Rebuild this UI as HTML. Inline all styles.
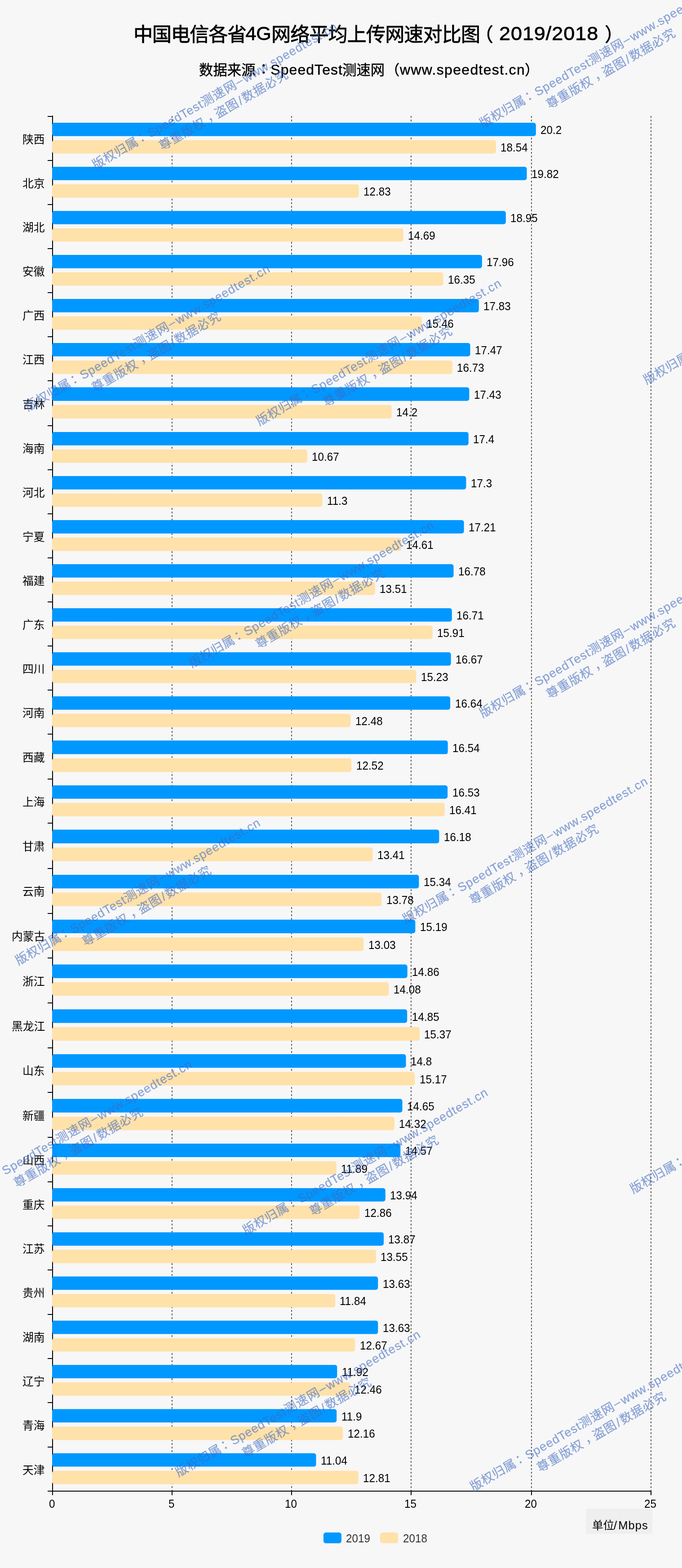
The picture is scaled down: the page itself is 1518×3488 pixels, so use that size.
<!DOCTYPE html>
<html lang="zh-CN"><head><meta charset="utf-8">
<title>中国电信各省4G网络平均上传网速对比图（2019/2018）</title>
<style>
html,body{margin:0;padding:0;background:#f7f7f7}
body{width:1518px;height:3488px;position:relative;overflow:hidden;font-family:"Liberation Sans","Noto Sans CJK SC",sans-serif}
h1,p{margin:0;padding:0;font-weight:normal}
.page{position:absolute;left:0;top:0;width:1518px;height:3488px;will-change:transform}
.t{position:absolute;line-height:1;white-space:nowrap;font-weight:normal;transform-origin:0 50%}
.cjk{position:absolute;overflow:visible;font-family:"Liberation Sans","Noto Sans CJK SC",sans-serif}
.lines,.wm{position:absolute;left:0;top:0;pointer-events:none}
.gl{stroke:#5a5a5a;stroke-width:2;stroke-dasharray:4 4}
.ax{stroke:#000;stroke-width:2}
.bar{position:absolute;border-radius:5px}
.b19{background:#0098ff;fill:#0098ff}
.b18{background:#ffe1aa;fill:#ffe1aa}
.sw{position:absolute;width:40px;height:24.4px;border-radius:5.5px}
.unitbg{position:absolute;background:#efefef}
.wm{fill:rgb(63,106,192);stroke:rgb(63,106,192);stroke-width:.35px;opacity:.6;font-family:"Liberation Sans","Noto Sans CJK SC",sans-serif;font-size:27px}
</style></head>
<body>
<main class="page">
<svg class="lines" width="1518" height="3488" viewBox="0 0 1518 3488" role="img" aria-label="bar chart"><g><line x1="383" y1="258" x2="383" y2="3316" class="gl"/><line x1="649" y1="258" x2="649" y2="3316" class="gl"/><line x1="915" y1="258" x2="915" y2="3316" class="gl"/><line x1="1183" y1="258" x2="1183" y2="3316" class="gl"/><line x1="1449" y1="258" x2="1449" y2="3316" class="gl"/><line x1="117" y1="257.3" x2="117" y2="3318" class="ax"/><line x1="106" y1="3317" x2="1450" y2="3317" class="ax"/><line x1="106" y1="259" x2="117" y2="259" class="ax"/><line x1="106" y1="357" x2="117" y2="357" class="ax"/><line x1="106" y1="455" x2="117" y2="455" class="ax"/><line x1="106" y1="553" x2="117" y2="553" class="ax"/><line x1="106" y1="651" x2="117" y2="651" class="ax"/><line x1="106" y1="749" x2="117" y2="749" class="ax"/><line x1="106" y1="847" x2="117" y2="847" class="ax"/><line x1="106" y1="947" x2="117" y2="947" class="ax"/><line x1="106" y1="1045" x2="117" y2="1045" class="ax"/><line x1="106" y1="1143" x2="117" y2="1143" class="ax"/><line x1="106" y1="1241" x2="117" y2="1241" class="ax"/><line x1="106" y1="1339" x2="117" y2="1339" class="ax"/><line x1="106" y1="1437" x2="117" y2="1437" class="ax"/><line x1="106" y1="1535" x2="117" y2="1535" class="ax"/><line x1="106" y1="1633" x2="117" y2="1633" class="ax"/><line x1="106" y1="1733" x2="117" y2="1733" class="ax"/><line x1="106" y1="1831" x2="117" y2="1831" class="ax"/><line x1="106" y1="1932" x2="117" y2="1932" class="ax"/><line x1="106" y1="2032" x2="117" y2="2032" class="ax"/><line x1="106" y1="2131" x2="117" y2="2131" class="ax"/><line x1="106" y1="2231" x2="117" y2="2231" class="ax"/><line x1="106" y1="2331" x2="117" y2="2331" class="ax"/><line x1="106" y1="2430" x2="117" y2="2430" class="ax"/><line x1="106" y1="2530" x2="117" y2="2530" class="ax"/><line x1="106" y1="2629" x2="117" y2="2629" class="ax"/><line x1="106" y1="2727" x2="117" y2="2727" class="ax"/><line x1="106" y1="2825" x2="117" y2="2825" class="ax"/><line x1="106" y1="2924" x2="117" y2="2924" class="ax"/><line x1="106" y1="3022" x2="117" y2="3022" class="ax"/><line x1="106" y1="3120" x2="117" y2="3120" class="ax"/><line x1="106" y1="3219" x2="117" y2="3219" class="ax"/><line x1="117" y1="3317" x2="117" y2="3326" class="ax"/><line x1="383" y1="3317" x2="383" y2="3326" class="ax"/><line x1="649" y1="3317" x2="649" y2="3326" class="ax"/><line x1="915" y1="3317" x2="915" y2="3326" class="ax"/><line x1="1183" y1="3317" x2="1183" y2="3326" class="ax"/><line x1="1449" y1="3317" x2="1449" y2="3326" class="ax"/></g><g><rect class="b19" x="116" y="273.09" width="1076.84" height="29.68" rx="5"/><rect class="b18" x="116" y="311.87" width="987.94" height="29.68" rx="5"/><rect class="b19" x="116" y="371.11" width="1056.55" height="29.72" rx="5"/><rect class="b18" x="116" y="409.93" width="682.76" height="29.72" rx="5"/><rect class="b19" x="116" y="469.18" width="1009.92" height="29.65" rx="5"/><rect class="b18" x="116" y="507.92" width="781.71" height="29.65" rx="5"/><rect class="b19" x="116" y="567.06" width="956.86" height="29.62" rx="5"/><rect class="b18" x="116" y="605.77" width="870.56" height="29.62" rx="5"/><rect class="b19" x="116" y="664.92" width="949.89" height="29.75" rx="5"/><rect class="b18" x="116" y="703.78" width="822.86" height="29.75" rx="5"/><rect class="b19" x="116" y="763.11" width="930.59" height="29.72" rx="5"/><rect class="b18" x="116" y="801.93" width="890.93" height="29.72" rx="5"/><rect class="b19" x="116" y="861.44" width="928.45" height="30.2" rx="5"/><rect class="b18" x="116" y="900.89" width="755.64" height="30.2" rx="5"/><rect class="b19" x="116" y="960.91" width="926.84" height="29.72" rx="5"/><rect class="b18" x="116" y="999.73" width="567.84" height="29.72" rx="5"/><rect class="b19" x="116" y="1059.01" width="921.48" height="29.72" rx="5"/><rect class="b18" x="116" y="1097.83" width="601.36" height="29.72" rx="5"/><rect class="b19" x="116" y="1157.09" width="916.66" height="29.68" rx="5"/><rect class="b18" x="116" y="1195.87" width="777.45" height="29.68" rx="5"/><rect class="b19" x="116" y="1255.09" width="893.61" height="29.68" rx="5"/><rect class="b18" x="116" y="1293.87" width="718.93" height="29.68" rx="5"/><rect class="b19" x="116" y="1353.09" width="889.86" height="29.68" rx="5"/><rect class="b18" x="116" y="1391.87" width="846.98" height="29.68" rx="5"/><rect class="b19" x="116" y="1451.09" width="887.71" height="29.68" rx="5"/><rect class="b18" x="116" y="1489.87" width="810.53" height="29.68" rx="5"/><rect class="b19" x="116" y="1549.08" width="886.1" height="29.65" rx="5"/><rect class="b18" x="116" y="1587.82" width="664.14" height="29.65" rx="5"/><rect class="b19" x="116" y="1647.29" width="880.74" height="30.32" rx="5"/><rect class="b18" x="116" y="1686.91" width="666.26" height="30.32" rx="5"/><rect class="b19" x="116" y="1747.11" width="880.21" height="29.72" rx="5"/><rect class="b18" x="116" y="1785.93" width="873.78" height="29.72" rx="5"/><rect class="b19" x="116" y="1845.55" width="861.45" height="30.44" rx="5"/><rect class="b18" x="116" y="1885.32" width="713.61" height="30.44" rx="5"/><rect class="b19" x="116" y="1945.97" width="816.42" height="30.26" rx="5"/><rect class="b18" x="116" y="1985.5" width="733.3" height="30.26" rx="5"/><rect class="b19" x="116" y="2045.84" width="808.38" height="30.2" rx="5"/><rect class="b18" x="116" y="2085.29" width="693.4" height="30.2" rx="5"/><rect class="b19" x="116" y="2145.54" width="790.75" height="30.2" rx="5"/><rect class="b18" x="116" y="2184.99" width="749.26" height="30.2" rx="5"/><rect class="b19" x="116" y="2245.27" width="790.22" height="30.26" rx="5"/><rect class="b18" x="116" y="2284.8" width="818.03" height="30.26" rx="5"/><rect class="b19" x="116" y="2345.11" width="787.56" height="30.14" rx="5"/><rect class="b18" x="116" y="2384.48" width="807.31" height="30.14" rx="5"/><rect class="b19" x="116" y="2444.61" width="779.58" height="30.14" rx="5"/><rect class="b18" x="116" y="2483.98" width="762.02" height="30.14" rx="5"/><rect class="b19" x="116" y="2544.07" width="775.32" height="30.05" rx="5"/><rect class="b18" x="116" y="2583.32" width="632.75" height="30.05" rx="5"/><rect class="b19" x="116" y="2643.09" width="741.81" height="29.68" rx="5"/><rect class="b18" x="116" y="2681.87" width="684.35" height="29.68" rx="5"/><rect class="b19" x="116" y="2741.14" width="738.08" height="29.78" rx="5"/><rect class="b18" x="116" y="2780.03" width="721.06" height="29.78" rx="5"/><rect class="b19" x="116" y="2839.45" width="725.32" height="29.81" rx="5"/><rect class="b18" x="116" y="2878.39" width="630.09" height="29.81" rx="5"/><rect class="b19" x="116" y="2937.84" width="725.32" height="29.78" rx="5"/><rect class="b18" x="116" y="2976.73" width="674.24" height="29.78" rx="5"/><rect class="b19" x="116" y="3036.14" width="634.34" height="29.78" rx="5"/><rect class="b18" x="116" y="3075.03" width="663.07" height="29.78" rx="5"/><rect class="b19" x="116" y="3134.45" width="633.28" height="29.81" rx="5"/><rect class="b18" x="116" y="3173.39" width="647.11" height="29.81" rx="5"/><rect class="b19" x="116" y="3232.84" width="587.53" height="29.78" rx="5"/><rect class="b18" x="116" y="3271.73" width="681.69" height="29.78" rx="5"/></g></svg>
<div class="plot"><div class="row"><svg class="cjk" role="img" aria-label="陕西" style="left:50.4px;top:294.67px" width="51.6" height="29.76" fill="#000"><title>陕西</title><text x="0" y="23.56" font-size="24.8">陕西</text></svg><span class="t" style="left:1203.24px;top:276.1px;font-size:26.5px;color:#000;transform:scaleX(0.915);">20.2</span><span class="t" style="left:1114.34px;top:314.88px;font-size:26.5px;color:#000;transform:scaleX(0.915);">18.54</span></div>
<div class="row"><svg class="cjk" role="img" aria-label="北京" style="left:50.4px;top:392.71px" width="51.6" height="29.76" fill="#000"><title>北京</title><text x="0" y="23.56" font-size="24.8">北京</text></svg><span class="t" style="left:1182.95px;top:374.13px;font-size:26.5px;color:#000;transform:scaleX(0.915);">19.82</span><span class="t" style="left:809.16px;top:412.95px;font-size:26.5px;color:#000;transform:scaleX(0.915);">12.83</span></div>
<div class="row"><svg class="cjk" role="img" aria-label="湖北" style="left:50.4px;top:490.72px" width="51.6" height="29.76" fill="#000"><title>湖北</title><text x="0" y="23.56" font-size="24.8">湖北</text></svg><span class="t" style="left:1136.32px;top:472.17px;font-size:26.5px;color:#000;transform:scaleX(0.915);">18.95</span><span class="t" style="left:908.11px;top:510.91px;font-size:26.5px;color:#000;transform:scaleX(0.915);">14.69</span></div>
<div class="row"><svg class="cjk" role="img" aria-label="安徽" style="left:50.4px;top:588.57px" width="51.6" height="29.76" fill="#000"><title>安徽</title><text x="0" y="23.56" font-size="24.8">安徽</text></svg><span class="t" style="left:1083.26px;top:570.04px;font-size:26.5px;color:#000;transform:scaleX(0.915);">17.96</span><span class="t" style="left:996.96px;top:608.75px;font-size:26.5px;color:#000;transform:scaleX(0.915);">16.35</span></div>
<div class="row"><svg class="cjk" role="img" aria-label="广西" style="left:50.4px;top:686.56px" width="51.6" height="29.76" fill="#000"><title>广西</title><text x="0" y="23.56" font-size="24.8">广西</text></svg><span class="t" style="left:1076.29px;top:667.96px;font-size:26.5px;color:#000;transform:scaleX(0.915);">17.83</span><span class="t" style="left:949.26px;top:706.82px;font-size:26.5px;color:#000;transform:scaleX(0.915);">15.46</span></div>
<div class="row"><svg class="cjk" role="img" aria-label="江西" style="left:50.4px;top:784.71px" width="51.6" height="29.76" fill="#000"><title>江西</title><text x="0" y="23.56" font-size="24.8">江西</text></svg><span class="t" style="left:1056.99px;top:766.13px;font-size:26.5px;color:#000;transform:scaleX(0.915);">17.47</span><span class="t" style="left:1017.33px;top:804.95px;font-size:26.5px;color:#000;transform:scaleX(0.915);">16.73</span></div>
<div class="row"><svg class="cjk" role="img" aria-label="吉林" style="left:50.4px;top:883.6px" width="51.6" height="29.76" fill="#000"><title>吉林</title><text x="0" y="23.56" font-size="24.8">吉林</text></svg><span class="t" style="left:1054.85px;top:864.7px;font-size:26.5px;color:#000;transform:scaleX(0.915);">17.43</span><span class="t" style="left:882.04px;top:904.16px;font-size:26.5px;color:#000;transform:scaleX(0.915);">14.2</span></div>
<div class="row"><svg class="cjk" role="img" aria-label="海南" style="left:50.4px;top:982.51px" width="51.6" height="29.76" fill="#000"><title>海南</title><text x="0" y="23.56" font-size="24.8">海南</text></svg><span class="t" style="left:1053.24px;top:963.93px;font-size:26.5px;color:#000;transform:scaleX(0.915);">17.4</span><span class="t" style="left:694.24px;top:1002.75px;font-size:26.5px;color:#000;transform:scaleX(0.915);">10.67</span></div>
<div class="row"><svg class="cjk" role="img" aria-label="河北" style="left:50.4px;top:1080.61px" width="51.6" height="29.76" fill="#000"><title>河北</title><text x="0" y="23.56" font-size="24.8">河北</text></svg><span class="t" style="left:1047.88px;top:1062.03px;font-size:26.5px;color:#000;transform:scaleX(0.915);">17.3</span><span class="t" style="left:727.76px;top:1100.85px;font-size:26.5px;color:#000;transform:scaleX(0.915);">11.3</span></div>
<div class="row"><svg class="cjk" role="img" aria-label="宁夏" style="left:50.4px;top:1178.67px" width="51.6" height="29.76" fill="#000"><title>宁夏</title><text x="0" y="23.56" font-size="24.8">宁夏</text></svg><span class="t" style="left:1043.06px;top:1160.1px;font-size:26.5px;color:#000;transform:scaleX(0.915);">17.21</span><span class="t" style="left:903.85px;top:1198.88px;font-size:26.5px;color:#000;transform:scaleX(0.915);">14.61</span></div>
<div class="row"><svg class="cjk" role="img" aria-label="福建" style="left:50.4px;top:1276.67px" width="51.6" height="29.76" fill="#000"><title>福建</title><text x="0" y="23.56" font-size="24.8">福建</text></svg><span class="t" style="left:1020.01px;top:1258.1px;font-size:26.5px;color:#000;transform:scaleX(0.915);">16.78</span><span class="t" style="left:845.33px;top:1296.88px;font-size:26.5px;color:#000;transform:scaleX(0.915);">13.51</span></div>
<div class="row"><svg class="cjk" role="img" aria-label="广东" style="left:50.4px;top:1374.67px" width="51.6" height="29.76" fill="#000"><title>广东</title><text x="0" y="23.56" font-size="24.8">广东</text></svg><span class="t" style="left:1016.26px;top:1356.1px;font-size:26.5px;color:#000;transform:scaleX(0.915);">16.71</span><span class="t" style="left:973.38px;top:1394.88px;font-size:26.5px;color:#000;transform:scaleX(0.915);">15.91</span></div>
<div class="row"><svg class="cjk" role="img" aria-label="四川" style="left:50.4px;top:1472.67px" width="51.6" height="29.76" fill="#000"><title>四川</title><text x="0" y="23.56" font-size="24.8">四川</text></svg><span class="t" style="left:1014.11px;top:1454.1px;font-size:26.5px;color:#000;transform:scaleX(0.915);">16.67</span><span class="t" style="left:936.93px;top:1492.88px;font-size:26.5px;color:#000;transform:scaleX(0.915);">15.23</span></div>
<div class="row"><svg class="cjk" role="img" aria-label="河南" style="left:50.4px;top:1570.62px" width="51.6" height="29.76" fill="#000"><title>河南</title><text x="0" y="23.56" font-size="24.8">河南</text></svg><span class="t" style="left:1012.5px;top:1552.07px;font-size:26.5px;color:#000;transform:scaleX(0.915);">16.64</span><span class="t" style="left:790.54px;top:1590.81px;font-size:26.5px;color:#000;transform:scaleX(0.915);">12.48</span></div>
<div class="row"><svg class="cjk" role="img" aria-label="西藏" style="left:50.4px;top:1669.6px" width="51.6" height="29.76" fill="#000"><title>西藏</title><text x="0" y="23.56" font-size="24.8">西藏</text></svg><span class="t" style="left:1007.14px;top:1650.62px;font-size:26.5px;color:#000;transform:scaleX(0.915);">16.54</span><span class="t" style="left:792.66px;top:1690.23px;font-size:26.5px;color:#000;transform:scaleX(0.915);">12.52</span></div>
<div class="row"><svg class="cjk" role="img" aria-label="上海" style="left:50.4px;top:1768.71px" width="51.6" height="29.76" fill="#000"><title>上海</title><text x="0" y="23.56" font-size="24.8">上海</text></svg><span class="t" style="left:1006.61px;top:1750.13px;font-size:26.5px;color:#000;transform:scaleX(0.915);">16.53</span><span class="t" style="left:1000.18px;top:1788.95px;font-size:26.5px;color:#000;transform:scaleX(0.915);">16.41</span></div>
<div class="row"><svg class="cjk" role="img" aria-label="甘肃" style="left:50.4px;top:1868px" width="51.6" height="29.76" fill="#000"><title>甘肃</title><text x="0" y="23.56" font-size="24.8">甘肃</text></svg><span class="t" style="left:987.85px;top:1848.94px;font-size:26.5px;color:#000;transform:scaleX(0.915);">16.18</span><span class="t" style="left:840.01px;top:1888.71px;font-size:26.5px;color:#000;transform:scaleX(0.915);">13.41</span></div>
<div class="row"><svg class="cjk" role="img" aria-label="云南" style="left:50.4px;top:1968.2px" width="51.6" height="29.76" fill="#000"><title>云南</title><text x="0" y="23.56" font-size="24.8">云南</text></svg><span class="t" style="left:942.82px;top:1949.26px;font-size:26.5px;color:#000;transform:scaleX(0.915);">15.34</span><span class="t" style="left:859.7px;top:1988.8px;font-size:26.5px;color:#000;transform:scaleX(0.915);">13.78</span></div>
<div class="row"><svg class="cjk" role="img" aria-label="内蒙古" style="left:25.6px;top:2068px" width="76.4" height="29.76" fill="#000"><title>内蒙古</title><text x="0" y="23.56" font-size="24.8">内蒙古</text></svg><span class="t" style="left:934.78px;top:2049.1px;font-size:26.5px;color:#000;transform:scaleX(0.915);">15.19</span><span class="t" style="left:819.8px;top:2088.56px;font-size:26.5px;color:#000;transform:scaleX(0.915);">13.03</span></div>
<div class="row"><svg class="cjk" role="img" aria-label="浙江" style="left:50.4px;top:2167.7px" width="51.6" height="29.76" fill="#000"><title>浙江</title><text x="0" y="23.56" font-size="24.8">浙江</text></svg><span class="t" style="left:917.15px;top:2148.8px;font-size:26.5px;color:#000;transform:scaleX(0.915);">14.86</span><span class="t" style="left:875.66px;top:2188.26px;font-size:26.5px;color:#000;transform:scaleX(0.915);">14.08</span></div>
<div class="row"><svg class="cjk" role="img" aria-label="黑龙江" style="left:25.6px;top:2267.5px" width="76.4" height="29.76" fill="#000"><title>黑龙江</title><text x="0" y="23.56" font-size="24.8">黑龙江</text></svg><span class="t" style="left:916.62px;top:2248.56px;font-size:26.5px;color:#000;transform:scaleX(0.915);">14.85</span><span class="t" style="left:944.43px;top:2288.1px;font-size:26.5px;color:#000;transform:scaleX(0.915);">15.37</span></div>
<div class="row"><svg class="cjk" role="img" aria-label="山东" style="left:50.4px;top:2367.21px" width="51.6" height="29.76" fill="#000"><title>山东</title><text x="0" y="23.56" font-size="24.8">山东</text></svg><span class="t" style="left:913.96px;top:2348.35px;font-size:26.5px;color:#000;transform:scaleX(0.915);">14.8</span><span class="t" style="left:933.71px;top:2387.72px;font-size:26.5px;color:#000;transform:scaleX(0.915);">15.17</span></div>
<div class="row"><svg class="cjk" role="img" aria-label="新疆" style="left:50.4px;top:2466.71px" width="51.6" height="29.76" fill="#000"><title>新疆</title><text x="0" y="23.56" font-size="24.8">新疆</text></svg><span class="t" style="left:905.98px;top:2447.85px;font-size:26.5px;color:#000;transform:scaleX(0.915);">14.65</span><span class="t" style="left:888.42px;top:2487.22px;font-size:26.5px;color:#000;transform:scaleX(0.915);">14.32</span></div>
<div class="row"><svg class="cjk" role="img" aria-label="山西" style="left:50.4px;top:2566.06px" width="51.6" height="29.76" fill="#000"><title>山西</title><text x="0" y="23.56" font-size="24.8">山西</text></svg><span class="t" style="left:901.72px;top:2547.26px;font-size:26.5px;color:#000;transform:scaleX(0.915);">14.57</span><span class="t" style="left:759.15px;top:2586.51px;font-size:26.5px;color:#000;transform:scaleX(0.915);">11.89</span></div>
<div class="row"><svg class="cjk" role="img" aria-label="重庆" style="left:50.4px;top:2664.67px" width="51.6" height="29.76" fill="#000"><title>重庆</title><text x="0" y="23.56" font-size="24.8">重庆</text></svg><span class="t" style="left:868.21px;top:2646.1px;font-size:26.5px;color:#000;transform:scaleX(0.915);">13.94</span><span class="t" style="left:810.75px;top:2684.88px;font-size:26.5px;color:#000;transform:scaleX(0.915);">12.86</span></div>
<div class="row"><svg class="cjk" role="img" aria-label="江苏" style="left:50.4px;top:2762.81px" width="51.6" height="29.76" fill="#000"><title>江苏</title><text x="0" y="23.56" font-size="24.8">江苏</text></svg><span class="t" style="left:864.48px;top:2744.19px;font-size:26.5px;color:#000;transform:scaleX(0.915);">13.87</span><span class="t" style="left:847.46px;top:2783.09px;font-size:26.5px;color:#000;transform:scaleX(0.915);">13.55</span></div>
<div class="row"><svg class="cjk" role="img" aria-label="贵州" style="left:50.4px;top:2861.16px" width="51.6" height="29.76" fill="#000"><title>贵州</title><text x="0" y="23.56" font-size="24.8">贵州</text></svg><span class="t" style="left:851.72px;top:2842.52px;font-size:26.5px;color:#000;transform:scaleX(0.915);">13.63</span><span class="t" style="left:756.49px;top:2881.46px;font-size:26.5px;color:#000;transform:scaleX(0.915);">11.84</span></div>
<div class="row"><svg class="cjk" role="img" aria-label="湖南" style="left:50.4px;top:2959.51px" width="51.6" height="29.76" fill="#000"><title>湖南</title><text x="0" y="23.56" font-size="24.8">湖南</text></svg><span class="t" style="left:851.72px;top:2940.89px;font-size:26.5px;color:#000;transform:scaleX(0.915);">13.63</span><span class="t" style="left:800.64px;top:2979.79px;font-size:26.5px;color:#000;transform:scaleX(0.915);">12.67</span></div>
<div class="row"><svg class="cjk" role="img" aria-label="辽宁" style="left:50.4px;top:3057.81px" width="51.6" height="29.76" fill="#000"><title>辽宁</title><text x="0" y="23.56" font-size="24.8">辽宁</text></svg><span class="t" style="left:760.74px;top:3039.19px;font-size:26.5px;color:#000;transform:scaleX(0.915);">11.92</span><span class="t" style="left:789.47px;top:3078.09px;font-size:26.5px;color:#000;transform:scaleX(0.915);">12.46</span></div>
<div class="row"><svg class="cjk" role="img" aria-label="青海" style="left:50.4px;top:3156.16px" width="51.6" height="29.76" fill="#000"><title>青海</title><text x="0" y="23.56" font-size="24.8">青海</text></svg><span class="t" style="left:759.68px;top:3137.52px;font-size:26.5px;color:#000;transform:scaleX(0.915);">11.9</span><span class="t" style="left:773.51px;top:3176.46px;font-size:26.5px;color:#000;transform:scaleX(0.915);">12.16</span></div>
<div class="row"><svg class="cjk" role="img" aria-label="天津" style="left:50.4px;top:3254.51px" width="51.6" height="29.76" fill="#000"><title>天津</title><text x="0" y="23.56" font-size="24.8">天津</text></svg><span class="t" style="left:713.93px;top:3235.89px;font-size:26.5px;color:#000;transform:scaleX(0.915);">11.04</span><span class="t" style="left:808.09px;top:3274.79px;font-size:26.5px;color:#000;transform:scaleX(0.915);">12.81</span></div></div>
<div class="xaxis"><span class="t" style="left:109.03px;top:3331.57px;font-size:26.5px;color:#000;transform:scaleX(0.915);">0</span><span class="t" style="left:375.02px;top:3331.57px;font-size:26.5px;color:#000;transform:scaleX(0.915);">5</span><span class="t" style="left:634.35px;top:3331.57px;font-size:26.5px;color:#000;transform:scaleX(0.915);">10</span><span class="t" style="left:900.35px;top:3331.57px;font-size:26.5px;color:#000;transform:scaleX(0.915);">15</span><span class="t" style="left:1168.35px;top:3331.57px;font-size:26.5px;color:#000;transform:scaleX(0.915);">20</span><span class="t" style="left:1434.35px;top:3331.57px;font-size:26.5px;color:#000;transform:scaleX(0.915);">25</span></div>
<h1 class="title"><svg class="cjk" role="img" aria-label="中国电信各省" style="left:296.7px;top:51.16px" width="254.2" height="51.84" fill="#000" stroke="#000" stroke-width="0.8"><title>中国电信各省</title><text x="0" y="41.04" font-size="43.2" letter-spacing="-1.4">中国电信各省</text></svg><span class="t" style="left:546.4px;top:52.9px;font-size:43px;color:#000;-webkit-text-stroke:0.8px #000;">4G</span><svg class="cjk" role="img" aria-label="网络平均上传网速对比图" style="left:604.4px;top:51.16px" width="467.2" height="51.84" fill="#000" stroke="#000" stroke-width="0.8"><title>网络平均上传网速对比图</title><text x="0" y="41.04" font-size="43.2" letter-spacing="-1">网络平均上传网速对比图</text></svg><svg class="cjk" role="img" aria-label="（" style="left:1055.67px;top:52.3px" width="44" height="50.4" fill="#000" stroke="#000" stroke-width="0.8"><title>（</title><text x="0" y="39.9" font-size="42">（</text></svg><span class="t" style="left:1111px;top:53.75px;font-size:42px;color:#000;letter-spacing:0.9px;transform:scaleX(1.07);-webkit-text-stroke:0.8px #000;">2019/2018</span><svg class="cjk" role="img" aria-label="）" style="left:1345.93px;top:52.3px" width="44" height="50.4" fill="#000" stroke="#000" stroke-width="0.8"><title>）</title><text x="0" y="39.9" font-size="42">）</text></svg></h1>
<p class="subtitle"><svg class="cjk" role="img" aria-label="数据来源" style="left:442.5px;top:137.17px" width="127.6" height="37.68" fill="#000" stroke="#000" stroke-width="0.45"><title>数据来源</title><text x="0" y="29.83" font-size="31.4">数据来源</text></svg><svg class="cjk" role="img" aria-label="：" style="left:578.95px;top:133.37px" width="33.4" height="37.68" fill="#000" stroke="#000" stroke-width="0.45"><title>：</title><text x="0" y="29.83" font-size="31.4">：</text></svg><span class="t" style="left:602.3px;top:138.91px;font-size:32px;color:#000;letter-spacing:1.05px;-webkit-text-stroke:0.45px #000;">SpeedTest</span><svg class="cjk" role="img" aria-label="测速网" style="left:762.4px;top:137.17px" width="96.2" height="37.68" fill="#000" stroke="#000" stroke-width="0.45"><title>测速网</title><text x="0" y="29.83" font-size="31.4">测速网</text></svg><svg class="cjk" role="img" aria-label="（" style="left:858.01px;top:137.17px" width="33.4" height="37.68" fill="#000" stroke="#000" stroke-width="0.45"><title>（</title><text x="0" y="29.83" font-size="31.4">（</text></svg><span class="t" style="left:890px;top:138.91px;font-size:32px;color:#000;letter-spacing:1.32px;-webkit-text-stroke:0.45px #000;">www.speedtest.cn</span><svg class="cjk" role="img" aria-label="）" style="left:1167.89px;top:137.17px" width="33.4" height="37.68" fill="#000" stroke="#000" stroke-width="0.45"><title>）</title><text x="0" y="29.83" font-size="31.4">）</text></svg></p>
<div class="unit"><div class="unitbg" style="left:1304px;top:3356px;width:148px;height:56px"></div><svg class="cjk" role="img" aria-label="单位" style="left:1318px;top:3379.23px" width="51.2" height="29.52" fill="#000"><title>单位</title><text x="0" y="23.37" font-size="24.6">单位</text></svg><span class="t" style="left:1366px;top:3380.49px;font-size:26px;color:#000;">/</span><span class="t" style="left:1376.2px;top:3380.91px;font-size:25.5px;color:#000;letter-spacing:1.1px;">Mbps</span></div>
<div class="legend"><i class="sw b19" style="left:720px;top:3408.8px"></i><span class="t" style="left:770px;top:3408.97px;font-size:26.5px;color:#333;transform:scaleX(0.915);">2019</span><i class="sw b18" style="left:846px;top:3408.8px"></i><span class="t" style="left:896.6px;top:3408.97px;font-size:26.5px;color:#333;transform:scaleX(0.915);">2018</span></div>
<svg class="wm" width="1518" height="3488" viewBox="0 0 1518 3488" aria-hidden="true"><defs><g id="wm"><title>版权归属：SpeedTest测速网—www.speedtest.cn 尊重版权，盗图/数据必究</title><g><text x="0.4" y="0" font-size="27.6" letter-spacing="0.8">版权归属</text><text x="117.5" y="-1.5" font-size="27.6">：</text><text x="141.4" y="0" textLength="137.5" lengthAdjust="spacing">SpeedTest</text><text x="280.1" y="0" font-size="27.6" letter-spacing="1.4">测速网</text><rect x="368" y="-9.6" width="15" height="1.8"/><text x="386.5" y="0" textLength="237.5" lengthAdjust="spacing">www.speedtest.cn</text></g><g transform="translate(0 37.5)"><text x="150.4" y="0" font-size="27.6" letter-spacing="1">尊重版权</text><text x="271.8" y="-2" font-size="27.6">，</text><text x="293.4" y="0" font-size="27.6" letter-spacing="1">盗图</text><text x="352.7" y="0">/</text><text x="363.1" y="0" font-size="27.6" letter-spacing="1">数据必究</text></g></g></defs><use href="#wm" transform="translate(212 377.5) rotate(-30)"/><use href="#wm" transform="translate(1074 285.3) rotate(-30)"/><use href="#wm" transform="translate(62 915.5) rotate(-30)"/><use href="#wm" transform="translate(577 947.8) rotate(-30)"/><use href="#wm" transform="translate(1438.7 855.9) rotate(-30)"/><use href="#wm" transform="translate(427 1486) rotate(-30)"/><use href="#wm" transform="translate(1074 1597.5) rotate(-30)"/><use href="#wm" transform="translate(903 2055.5) rotate(-30)"/><use href="#wm" transform="translate(40.7 2147.8) rotate(-30)"/><use href="#wm" transform="translate(-111.2 2685) rotate(-30)"/><use href="#wm" transform="translate(547 2747.8) rotate(-30)"/><use href="#wm" transform="translate(1409 2655.9) rotate(-30)"/><use href="#wm" transform="translate(397 3285.9) rotate(-30)"/><use href="#wm" transform="translate(1053 3318) rotate(-30)"/></svg>
</main>
</body></html>
